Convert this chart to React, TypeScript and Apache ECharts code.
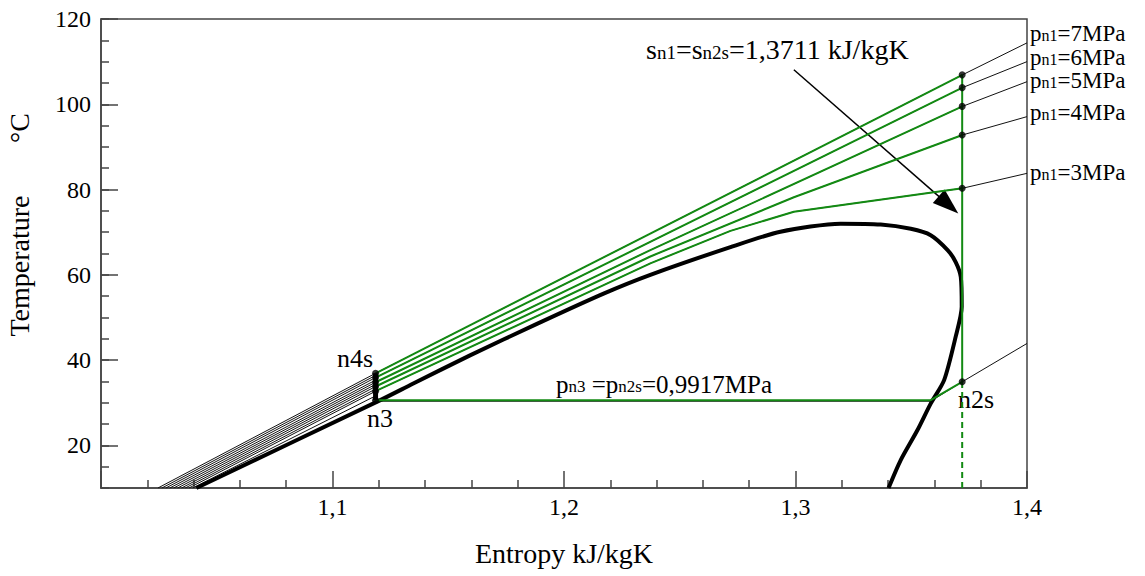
import React, { useEffect, useRef } from 'react';
import * as echarts from 'echarts';

const FONT = 'Liberation Serif';
const GREEN = '#138a13';
const AXIS = '#444';

// Saturation dome (entropy kJ/kgK, temperature °C)
const domeS = [1.0412, 1.1191, 1.1349, 1.1594, 1.1883, 1.2171, 1.2373, 1.2719, 1.2935, 1.3195, 1.3368, 1.3498, 1.3584, 1.3657, 1.3692, 1.3714, 1.3718, 1.3692, 1.3642, 1.3584, 1.3527, 1.3454, 1.3402];
const domeT = [10.0, 30.2, 34.5, 41.1, 48.5, 55.6, 60.0, 66.5, 70.1, 72.0, 71.8, 70.8, 69.3, 65.8, 63.0, 59.5, 52.5, 45.5, 35.3, 29.8, 23.6, 16.5, 10.0];

// High pressure isobars pn1 = 7, 6, 5, 4, 3 MPa
const pressureLabels = ['7', '6', '5', '4', '3'];
const liquidStartS = [1.0246, 1.028, 1.0314, 1.0348, 1.038]; // s at 10 °C
const liquidStartT = [10, 10, 10, 10, 10];
const iso7S = [1.1186, 1.3721];
const iso7T = [36.9, 106.9];
const iso6S = [1.1186, 1.3721];
const iso6T = [35.9, 103.9];
const iso5S = [1.1186, 1.2373, 1.3721];
const iso5T = [34.8, 65.8, 99.5];
const iso4S = [1.1186, 1.2373, 1.2993, 1.3721];
const iso4T = [33.8, 64.3, 78.2, 92.8];
const iso3S = [1.1186, 1.2373, 1.2719, 1.2993, 1.3721];
const iso3T = [32.7, 62.7, 70.3, 74.8, 80.3];
const rightEdgeS = 1.4;
const rightEdgeT = [114.4, 110.0, 105.3, 97.1, 83.8];

// extra liquid-region isobars
const extraLiqS = [1.0263, 1.0297, 1.0331, 1.0364, 1.0396];
const extraTopT = [36.4, 35.3, 34.3, 33.2, 31.6];

// low pressure line pn3 = pn2s = 0,9917 MPa and cycle points
const n3S = 1.1186;
const n3T = 30.6;
const pn3BlackT = 30.35;
const domeCrossS = 1.3584;
const n2sS = 1.372;
const n2sT = 34.9;
const pn3RightT = 43.9;
const n1Dots = [106.9, 103.9, 99.5, 92.8, 80.3];
const n4sDots = [36.9, 35.9, 34.8, 33.8, 32.7];
const axisMinT = 10;

// arrow
const arrowFrom = [1.2993, 108.1];
const arrowTo = [1.3661, 76.4];

// axis ticks
const yMajorTicks = [20, 40, 60, 80, 100, 120];

const zip = (s: number[], t: number[]) => s.map((v, i) => [v, t[i]]);

const line = (data: number[][], color: string, width: number, z: number, type: any = 'solid', smooth: any = false) => ({
  type: 'line',
  data,
  symbol: 'none',
  showSymbol: false,
  silent: true,
  smooth,
  lineStyle: { color, width, type },
  z,
});

const tickRich = { t: { fontSize: 24, fontFamily: FONT, color: '#000', lineHeight: 26 } };

export default function App() {
  const ref = useRef<HTMLDivElement>(null);
  useEffect(() => {
    document.body.style.margin = '0';
    const chart = echarts.init(ref.current!, null, { renderer: 'svg' });
    const greens = [zip(iso7S, iso7T), zip(iso6S, iso6T), zip(iso5S, iso5T), zip(iso4S, iso4T), zip(iso3S, iso3T)];
    const series: any[] = [];
    series.push(line(zip(domeS, domeT), '#000', 4, 5, 'solid', 0.25));
    greens.forEach((g, i) => {
      const full = [[liquidStartS[i], liquidStartT[i]], ...g, [rightEdgeS, rightEdgeT[i]]];
      series.push(line(full, '#111', 1, 3));
    });
    extraLiqS.forEach((s, i) => {
      series.push(line([[s, axisMinT], [n3S, extraTopT[i]]], '#111', 1, 3));
    });
    series.push(line([[n3S, pn3BlackT], [domeCrossS, pn3BlackT], [n2sS, n2sT], [rightEdgeS, pn3RightT]], '#111', 1, 3));
    greens.forEach((g) => series.push(line(g, GREEN, 2, 6)));
    series.push(line([[n3S, n3T], [domeCrossS, n3T], [n2sS, n2sT]], GREEN, 2, 6));
    series.push(line([[n2sS, n2sT], [n2sS, n1Dots[0]]], GREEN, 2, 6));
    series.push(line([[n2sS, axisMinT], [n2sS, n2sT]], GREEN, 2, 6, [6, 4]));
    series.push(line([[n3S, n3T], [n3S, n4sDots[0]]], '#000', 5, 7));
    series.push({
      type: 'scatter',
      silent: true,
      symbol: 'circle',
      symbolSize: 7,
      itemStyle: { color: '#000' },
      z: 8,
      data: [[n3S, n3T], ...n4sDots.map((t) => [n3S, t]), [n2sS, n2sT], ...n1Dots.map((t) => [n2sS, t])],
      markLine: {
        silent: true,
        symbol: ['none', 'triangle'],
        symbolSize: 20,
        label: { show: false },
        lineStyle: { color: '#000', width: 1.5, type: 'solid' },
        itemStyle: { color: '#000' },
        data: [[{ coord: arrowFrom }, { coord: arrowTo, symbolSize: [18, 26] }]],
      },
    });

    const rich = (main: number, sub: number, lh: number) => ({
      m: { fontSize: main, fontFamily: FONT, lineHeight: lh, fill: '#000' },
      s: { fontSize: sub, fontFamily: FONT, lineHeight: sub, verticalAlign: 'bottom', fill: '#000' },
    });
    const pBaselines = [41, 65, 88.3, 120, 180];
    const graphics: any[] = [];
    pressureLabels.forEach((p, i) => {
      graphics.push({
        type: 'text',
        x: 1030,
        y: pBaselines[i] + 2.5,
        style: { text: `{m|p}{s|n1}{m|=${p}MPa}`, rich: rich(23, 16, 20), verticalAlign: 'bottom', align: 'left' },
      });
    });
    graphics.push({
      type: 'text',
      x: 646,
      y: 62,
      style: { text: '{m|s}{s|n1}{m|=s}{s|n2s}{m|=1,3711 kJ/kgK}', rich: rich(28, 19, 26), verticalAlign: 'bottom', align: 'left' },
    });
    graphics.push({
      type: 'text',
      x: 556,
      y: 395,
      style: { text: '{m|p}{s|n3}{m| =p}{s|n2s}{m|=0,9917MPa}', rich: rich(25, 17, 22), verticalAlign: 'bottom', align: 'left' },
    });
    const plain = (text: string, x: number, y: number, size: number, align = 'center', rotation = 0) => ({
      type: 'text',
      x,
      y,
      rotation,
      style: { text, fontSize: size, fontFamily: FONT, fill: '#000', align, verticalAlign: 'middle' },
    });
    graphics.push(plain('n4s', 355, 358, 26));
    graphics.push(plain('n3', 380, 418, 26));
    graphics.push(plain('n2s', 958, 399, 26, 'left'));
    graphics.push(plain('Temperature', 19, 266, 28, 'center', Math.PI / 2));
    graphics.push(plain('°C', 19, 128, 28, 'center', Math.PI / 2));
    graphics.push(plain('Entropy kJ/kgK', 564, 553, 28));

    chart.setOption({
      animation: false,
      backgroundColor: '#fff',
      textStyle: { fontFamily: FONT, fontSize: 24, color: '#000' },
      grid: {
        left: 101,
        right: 118,
        top: 19,
        bottom: 88,
        show: true,
        borderColor: AXIS,
        borderWidth: 1.5,
        outerBoundsMode: 'none',
      },
      xAxis: {
        type: 'value',
        min: 1,
        max: 1.4,
        interval: 0.1,
        axisLine: { show: true, onZero: false, lineStyle: { color: AXIS, width: 1.5 } },
        axisTick: { show: true, inside: true, length: 17, lineStyle: { color: AXIS, width: 1.5 } },
        minorTick: { show: true, splitNumber: 5, length: 8, lineStyle: { color: AXIS, width: 1.5 } },
        splitLine: { show: false },
        axisLabel: {
          fontSize: 24,
          fontFamily: FONT,
          color: '#000',
          margin: 6,
          rich: tickRich,
          formatter: (v: number) => (Math.abs(v - 1) < 1e-6 ? '' : `{t|${v.toFixed(1).replace('.', ',')}}`),
        },
      },
      yAxis: [
        {
          type: 'value',
          min: 10,
          max: 120,
          interval: 5,
          axisLine: { show: true, lineStyle: { color: AXIS, width: 1.5 } },
          axisTick: { show: true, inside: true, length: 8, lineStyle: { color: AXIS, width: 1.5 } },
          axisLabel: { show: false },
          splitLine: { show: false },
        },
        {
          type: 'value',
          position: 'left',
          min: 10,
          max: 120,
          axisLine: { show: false },
          axisTick: { show: true, inside: true, length: 17, customValues: yMajorTicks, lineStyle: { color: AXIS, width: 1.5 } },
          axisLabel: {
            show: true,
            customValues: yMajorTicks,
            fontSize: 24,
            fontFamily: FONT,
            color: '#000',
            margin: 10,
            rich: tickRich,
            formatter: (v: number) => `{t|${v}}`,
          },
          splitLine: { show: false },
        },
      ],
      series,
      graphic: graphics,
    });
    return () => chart.dispose();
  }, []);
  return <div ref={ref} style={{ position: 'absolute', left: 0, top: 0, width: 1145, height: 576 }} />;
}
